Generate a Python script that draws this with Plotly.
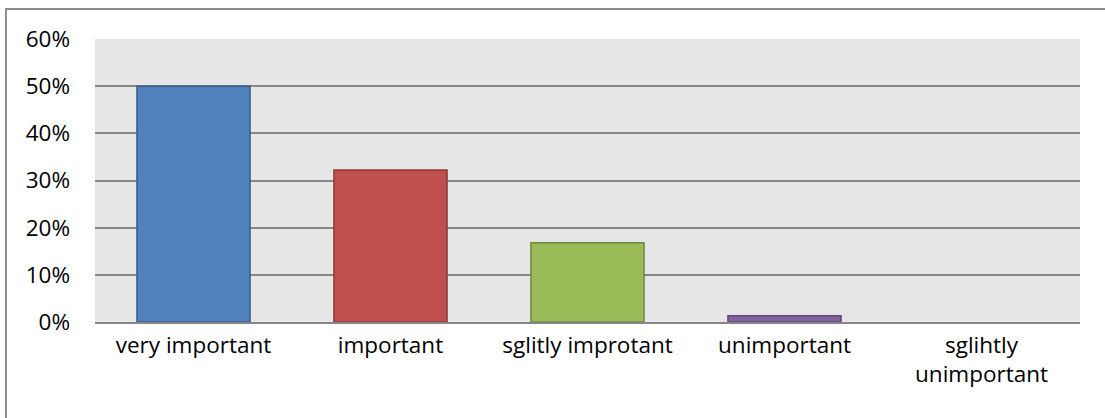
import plotly.graph_objects as go

categories = ["very important", "important", "sglitly improtant", "unimportant", "sglihtly<br>unimportant"]
shares = [0.50, 0.322, 0.168, 0.013, 0.0]
fill_colors = ["#4f81bd", "#c0504d", "#9bbb59", "#8064a2", "#4bacc6"]
edge_colors = ["#385d8a", "#8c3836", "#71893f", "#5c4776", "#357d91"]
edge_widths = [1.5, 1.5, 1.5, 1.5, 0]
y_ticks = [0, 0.1, 0.2, 0.3, 0.4, 0.5, 0.6]
y_tick_labels = ["0%", "10%", "20%", "30%", "40%", "50%", "60%"]

fig = go.Figure(
    go.Bar(
        x=categories,
        y=shares,
        width=0.574,
        marker=dict(color=fill_colors, line=dict(color=edge_colors, width=edge_widths)),
        hoverinfo="skip",
    )
)

font = dict(family="Open Sans", size=22.5, color="#000000")

fig.update_layout(
    width=1105,
    height=418,
    margin=dict(l=95, r=25, t=39, b=96),
    paper_bgcolor="#ffffff",
    plot_bgcolor="#e6e6e6",
    font=font,
    showlegend=False,
    shapes=[
        # outer chart frame
        dict(
            type="rect", xref="paper", yref="paper",
            x0=-0.0904, x1=1.04, y0=-0.4, y1=1.106,
            line=dict(color="#8c8c8c", width=2), fillcolor="rgba(0,0,0,0)",
            layer="below",
        )
    ],
)

fig.update_xaxes(
    showgrid=False,
    showline=True,
    linecolor="#868686",
    linewidth=2,
    ticks="",
    ticklabelstandoff=2,
    tickfont=font,
)

fig.update_yaxes(
    range=[0, 0.6],
    tickvals=y_ticks,
    ticktext=y_tick_labels,
    showgrid=True,
    gridcolor="#868686",
    gridwidth=1.6,
    zeroline=False,
    showline=False,
    ticks="",
    ticklabelstandoff=24,
    tickfont=font,
)

fig.write_html("out.html")
